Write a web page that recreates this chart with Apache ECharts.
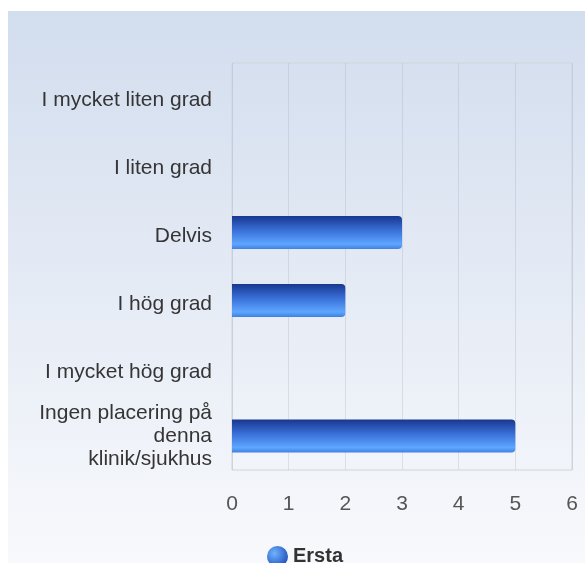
<!DOCTYPE html>
<html>
<head>
<meta charset="utf-8">
<title>Ersta</title>
<script src="https://cdn.jsdelivr.net/npm/echarts@6/dist/echarts.min.js"></script>
<style>
  html, body { margin: 0; padding: 0; background: #fff; }
  #main { width: 585px; height: 563px; }
</style>
</head>
<body>
<div id="main"></div>
<script>
var categories = [
  'I mycket liten grad',
  'I liten grad',
  'Delvis',
  'I hög grad',
  'I mycket hög grad',
  'Ingen placering på\ndenna\nklinik/sjukhus'
];
var seriesName = 'Ersta';
var values = [0, 0, 3, 2, 0, 5];
var xTicks = [0, 1, 2, 3, 4, 5, 6];

var labelFont = 'Liberation Sans, Arial, sans-serif';

var barColor = new echarts.graphic.LinearGradient(0, 0, 0, 1, [
  { offset: 0, color: '#18378f' },
  { offset: 0.45, color: '#3a72da' },
  { offset: 0.85, color: '#5ea6ff' },
  { offset: 1, color: '#3f80e2' }
]);

var chart = echarts.init(document.getElementById('main'));

var option = {
  backgroundColor: '#ffffff',
  animation: false,
  graphic: [{
    type: 'rect',
    z: -10,
    silent: true,
    shape: { x: 8, y: 11, width: 577, height: 552 },
    style: {
      fill: new echarts.graphic.LinearGradient(0, 0, 0, 1, [
        { offset: 0, color: '#d2ddee' },
        { offset: 1, color: '#f8f9fc' }
      ])
    }
  }],
  grid: {
    left: 232, right: 13, top: 63, bottom: 93,
    show: true,
    borderColor: '#cfd5dd',
    borderWidth: 1,
    backgroundColor: 'transparent'
  },
  legend: {
    data: [{ name: seriesName, icon: 'circle' }],
    left: 262,
    top: 541,
    itemWidth: 21,
    itemHeight: 21,
    itemGap: 6,
    itemStyle: {
      color: new echarts.graphic.RadialGradient(0.35, 0.35, 0.75, [
        { offset: 0, color: '#6fb2ff' },
        { offset: 1, color: '#1f4fb8' }
      ])
    },
    textStyle: { fontFamily: labelFont, fontSize: 20, fontWeight: 'bold', color: '#333' }
  },
  xAxis: {
    type: 'value',
    min: xTicks[0],
    max: xTicks[xTicks.length - 1],
    interval: 1,
    axisLine: { show: false },
    axisTick: { show: false },
    splitLine: { show: true, lineStyle: { color: 'rgba(150,160,175,0.25)' } },
    axisLabel: {
      margin: 24,
      fontFamily: labelFont,
      fontSize: 21,
      color: '#555'
    }
  },
  yAxis: {
    type: 'category',
    inverse: true,
    data: categories,
    axisLine: { show: false },
    axisTick: { show: false },
    axisLabel: {
      margin: 20,
      fontFamily: labelFont,
      fontSize: 21,
      lineHeight: 23,
      color: '#353535',
      align: 'right',
      // single-line labels sit a little below the band centre
      formatter: function (v) {
        return v.indexOf('\n') >= 0 ? v : '{p|' + v + '}';
      },
      rich: {
        p: {
          fontFamily: labelFont,
          fontSize: 21,
          lineHeight: 23,
          color: '#353535',
          padding: [7, 0, 0, 0]
        }
      }
    }
  },
  series: [{
    name: seriesName,
    type: 'bar',
    data: values,
    barWidth: 33,
    itemStyle: {
      color: barColor,
      borderRadius: [0, 4, 4, 0]
    }
  }]
};

chart.setOption(option);
</script>
</body>
</html>
